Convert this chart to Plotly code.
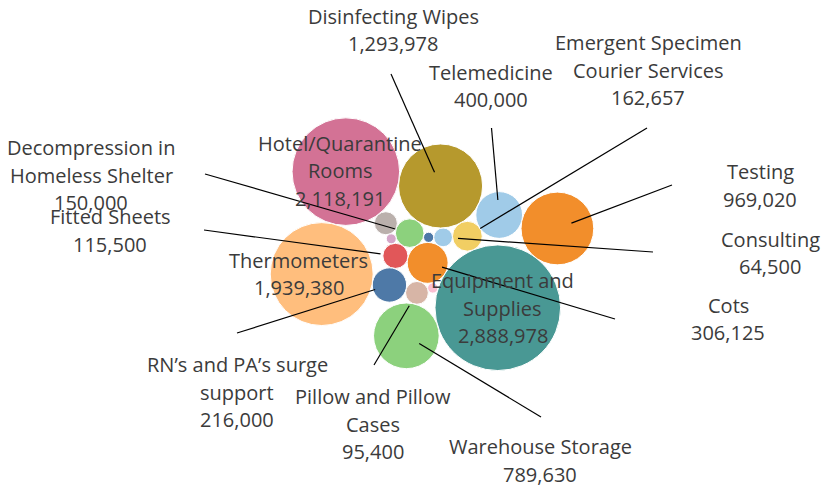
import math
import plotly.graph_objects as go

# ---------------- data ----------------
categories = [
    "Unlabeled item A",
    "Consulting",
    "Cots",
    "Decompression in Homeless Shelter",
    "Disinfecting Wipes",
    "Emergent Specimen Courier Services",
    "Equipment and Supplies",
    "Fitted Sheets",
    "Unlabeled item B",
    "Hotel/Quarantine Rooms",
    "Unlabeled item C",
    "Unlabeled item D",
    "Pillow and Pillow Cases",
    "RN’s and PA’s surge support",
    "Telemedicine",
    "Testing",
    "Thermometers",
    "Warehouse Storage",
]
values = [
    19000, 64500, 306125, 150000, 1293978, 162657, 2888978, 115500, 97000,
    2118191, 19500, 18300, 95400, 216000, 400000, 969020, 1939380, 789630,
]
labeled = [
    False, True, True, True, True, True, True, True, False,
    True, False, False, True, True, True, True, True, True,
]

# ---------------- styles / layout ----------------
colors = [
    "#4E79A7", "#A0CBE8", "#F28E2B", "#8CD17D", "#B6992D", "#F1CE63",
    "#499894", "#E15759", "#BAB0AC", "#D37295", "#FABFD2", "#D4A6C8",
    "#D7B5A6", "#4E79A7", "#A0CBE8", "#F28E2B", "#FFBE7D", "#8CD17D",
]
PX_PER_SQRT = 0.03695          # bubble radius (px) per sqrt(value)
PAD = 0.0                      # extra gap between touching bubbles (px)
CLUSTER_CENTER = (432.0, 244.2)
W, H = 825, 487
FONT = dict(family="Open Sans, Noto Sans, sans-serif", size=20, color="#3b3b3b")
LINE_GAP = 27.5
WRAP = 19
STANDOFF = 15

# packing recipe: each bubble is set tangent to two bubbles already placed
packing = [
    ("Unlabeled item A", None, None),
    ("Consulting", "Unlabeled item A", None),
    ("Cots", "Unlabeled item A", "Consulting"),
    ("Decompression in Homeless Shelter", "Unlabeled item A", "Cots"),
    ("Disinfecting Wipes", "Decompression in Homeless Shelter", "Consulting"),
    ("Emergent Specimen Courier Services", "Consulting", "Disinfecting Wipes"),
    ("Equipment and Supplies", "Emergent Specimen Courier Services", "Cots"),
    ("Fitted Sheets", "Decompression in Homeless Shelter", "Cots"),
    ("Unlabeled item D", "Decompression in Homeless Shelter", "Fitted Sheets"),
    ("Unlabeled item B", "Decompression in Homeless Shelter", "Unlabeled item D"),
    ("Hotel/Quarantine Rooms", "Disinfecting Wipes", "Unlabeled item B"),
    ("Unlabeled item C", "Cots", "Equipment and Supplies"),
    ("Pillow and Pillow Cases", "Cots", "Unlabeled item C"),
    ("RN’s and PA’s surge support", "Fitted Sheets", "Pillow and Pillow Cases"),
    ("Warehouse Storage", "Pillow and Pillow Cases", "Equipment and Supplies"),
    ("Thermometers", "RN’s and PA’s surge support", "Hotel/Quarantine Rooms"),
    ("Telemedicine", "Emergent Specimen Courier Services", "Disinfecting Wipes"),
    ("Testing", "Telemedicine", "Equipment and Supplies"),
]

# label placement: outside -> (text centre, leader start); inside -> offset from bubble centre
label_layout = {
    "Disinfecting Wipes": ("out", (393, 30), (391, 74)),
    "Telemedicine": ("out", (491, 86), (491.5, 128)),
    "Emergent Specimen Courier Services": ("out", (648, 70), (647, 128)),
    "Testing": ("out", (760, 185.5), (672, 185)),
    "Consulting": ("out", (770, 253), (653, 252)),
    "Cots": ("out", (728, 319), (615, 319)),
    "Warehouse Storage": ("out", (540, 460.5), (541, 417)),
    "Pillow and Pillow Cases": ("out", (373, 424), (374, 365)),
    "RN’s and PA’s surge support": ("out", (237, 392), (237, 333)),
    "Decompression in Homeless Shelter": ("out", (91, 175), (205, 174)),
    "Fitted Sheets": ("out", (110, 230.5), (204, 230)),
    "Thermometers": ("in", (-23, 0)),
    "Hotel/Quarantine Rooms": ("in", (-6, -0.7)),
    "Equipment and Supplies": ("in", (5, 0.4)),
}


def wrap(text, width):
    words, lines, cur = text.split(" "), [], ""
    for w in words:
        if cur and len(cur) + 1 + len(w) > width:
            lines.append(cur)
            cur = w
        else:
            cur = (cur + " " + w) if cur else w
    lines.append(cur)
    return lines


def tangent_points(a, ra, b, rb):
    dx, dy = b[0] - a[0], b[1] - a[1]
    d = math.hypot(dx, dy)
    if d == 0:
        return []
    d_eff = min(max(d, abs(ra - rb)), ra + rb)
    x = (d_eff * d_eff + ra * ra - rb * rb) / (2 * d_eff)
    h = math.sqrt(max(0.0, ra * ra - x * x))
    ux, uy = dx / d, dy / d
    nx, ny = -uy, ux
    bx, by = a[0] + x * ux, a[1] + x * uy
    return [(bx + h * nx, by + h * ny), (bx - h * nx, by - h * ny)]


idx = {c: i for i, c in enumerate(categories)}
radii = [PX_PER_SQRT * math.sqrt(v) for v in values]
pos = {}
for name, a, b in packing:
    i = idx[name]
    r = radii[i]
    if a is None:
        pos[i] = (0.0, 0.0)
        continue
    ia = idx[a]
    if b is None:
        pos[i] = (pos[ia][0] + radii[ia] + r + PAD, pos[ia][1])
        continue
    ib = idx[b]
    cands = tangent_points(pos[ia], radii[ia] + r + PAD, pos[ib], radii[ib] + r + PAD)

    def overlap(c):
        return sum(max(0.0, radii[k] + r - math.hypot(c[0] - p[0], c[1] - p[1]))
                   for k, p in pos.items() if k not in (ia, ib))

    pos[i] = min(cands, key=overlap)

minx = min(pos[i][0] - radii[i] for i in pos)
maxx = max(pos[i][0] + radii[i] for i in pos)
miny = min(pos[i][1] - radii[i] for i in pos)
maxy = max(pos[i][1] + radii[i] for i in pos)
ox = CLUSTER_CENTER[0] - (minx + maxx) / 2
oy = CLUSTER_CENTER[1] - (miny + maxy) / 2
xs = [pos[i][0] + ox for i in range(len(categories))]
ys = [pos[i][1] + oy for i in range(len(categories))]

fig = go.Figure()
fig.add_trace(go.Scatter(
    x=xs, y=ys, mode="markers",
    marker=dict(size=[2 * r for r in radii], sizemode="diameter", color=colors,
                opacity=1, line=dict(width=1, color="white")),
    hovertext=[f"{c}: {v:,}" for c, v in zip(categories, values)],
    hoverinfo="text", showlegend=False,
))

lx, ly, annotations = [], [], []
for i, cat in enumerate(categories):
    if not labeled[i]:
        continue
    lines = wrap(cat, WRAP) + [f"{values[i]:,}"]
    spec = label_layout[cat]
    if spec[0] == "out":
        (tx, ty), (sx, sy) = spec[1], spec[2]
        vx, vy = xs[i] - sx, ys[i] - sy
        d = math.hypot(vx, vy)
        ex, ey = xs[i] - STANDOFF * vx / d, ys[i] - STANDOFF * vy / d
        lx += [sx, ex, None]
        ly += [sy, ey, None]
    else:
        tx, ty = xs[i] + spec[1][0], ys[i] + spec[1][1]
    n = len(lines)
    for j, line in enumerate(lines):
        annotations.append(dict(
            x=tx, y=ty + (j - (n - 1) / 2) * LINE_GAP, xref="x", yref="y",
            text=line, showarrow=False, xanchor="center", yanchor="middle",
            align="center", font=FONT))

fig.add_trace(go.Scatter(x=lx, y=ly, mode="lines", line=dict(color="black", width=1.2),
                         hoverinfo="skip", showlegend=False))

fig.update_layout(
    width=W, height=H, margin=dict(l=0, r=0, t=0, b=0, pad=0),
    paper_bgcolor="white", plot_bgcolor="white",
    xaxis=dict(range=[0, W], visible=False, fixedrange=True),
    yaxis=dict(range=[H, 0], visible=False, fixedrange=True),
    annotations=annotations, showlegend=False,
)

fig.write_html("out.html", config={"displayModeBar": False},
               post_script="document.body.style.margin='0';")
